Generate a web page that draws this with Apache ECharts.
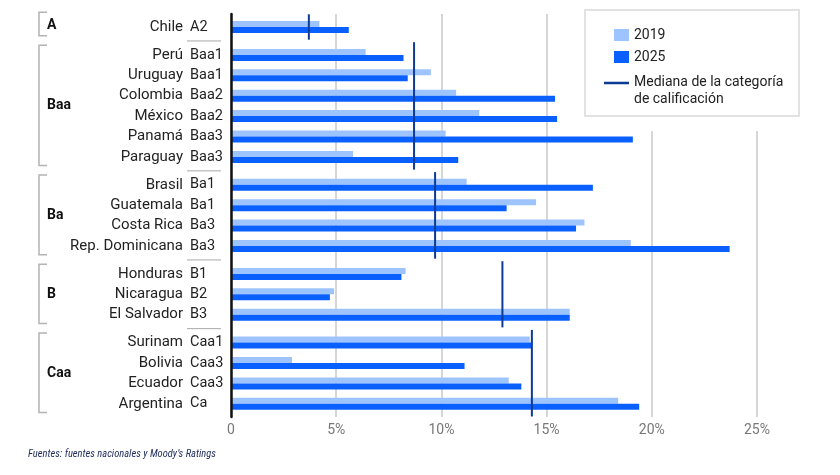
<!DOCTYPE html>
<html>
<head>
<meta charset="utf-8">
<script src="https://cdn.jsdelivr.net/npm/echarts@6/dist/echarts.min.js"></script>
<style>
html,body{margin:0;padding:0;background:#fff;}
#chart{width:840px;height:475px;}
</style>
</head>
<body>
<div id="chart"></div>
<script>
// ---------- DATA ----------
const groups = ['A', 'Baa', 'Ba', 'B', 'Caa'];
const groupSizes = [1, 6, 4, 3, 4];
const countries = ['Chile', 'Perú', 'Uruguay', 'Colombia', 'México', 'Panamá', 'Paraguay',
  'Brasil', 'Guatemala', 'Costa Rica', 'Rep. Dominicana',
  'Honduras', 'Nicaragua', 'El Salvador',
  'Surinam', 'Bolivia', 'Ecuador', 'Argentina'];
const ratings = ['A2', 'Baa1', 'Baa1', 'Baa2', 'Baa2', 'Baa3', 'Baa3',
  'Ba1', 'Ba1', 'Ba3', 'Ba3',
  'B1', 'B2', 'B3',
  'Caa1', 'Caa3', 'Caa3', 'Ca'];
const values2019 = [4.2, 6.4, 9.5, 10.7, 11.8, 10.2, 5.8,
  11.2, 14.5, 16.8, 19.0,
  8.3, 4.9, 16.1,
  14.2, 2.9, 13.2, 18.4];
const values2025 = [5.6, 8.2, 8.4, 15.4, 15.5, 19.1, 10.8,
  17.2, 13.1, 16.4, 23.7,
  8.1, 4.7, 16.1,
  14.3, 11.1, 13.8, 19.4];
const medians = [3.7, 8.7, 9.7, 12.9, 14.3];
const seriesNames = ['2019', '2025'];
const medianName = 'Mediana de la categoría de calificación';
const axisMax = 25, axisInterval = 5;
const footnote = 'Fuentes: fuentes nacionales y Moody\u2019s Ratings';

// ---------- LAYOUT ----------
const W = 840, H = 475;
const plotLeft = 231, plotRight = 83;
const rowH = 20.4, gapH = 7.5, firstTop = 16.8;
const mainTop = 14, mainBottomY = 417;
const col2019 = '#9ec4ff', col2025 = '#0a60ff', colMedian = '#0c3a94';
const font = 'Roboto, "Liberation Sans", Arial, sans-serif';

const groupTops = [];
const groupStart = [];
{
  let y = firstTop, idx = 0;
  groupSizes.forEach((n) => {
    groupTops.push(y);
    groupStart.push(idx);
    y += n * rowH + gapH;
    idx += n;
  });
}

const grids = [{ left: plotLeft, right: plotRight, top: mainTop, bottom: H - mainBottomY }];
const xAxes = [{
  gridIndex: 0, type: 'value', min: 0, max: axisMax, interval: axisInterval,
  axisLine: { show: false }, axisTick: { show: false },
  splitLine: { show: true, lineStyle: { color: '#c9c9c9', width: 1.5 } },
  axisLabel: { color: '#777', fontSize: 14, fontFamily: font, margin: 6,
    formatter: (v) => (v === 0 ? '0' : v + '%') }
}];
const yAxes = [{
  gridIndex: 0, type: 'value', min: 0, max: 1, z: 10,
  axisLine: { show: true, lineStyle: { color: '#111', width: 2.5 } },
  axisTick: { show: false }, axisLabel: { show: false }, splitLine: { show: false }
}];
const series = [];

groups.forEach((g, gi) => {
  const n = groupSizes[gi];
  const s = groupStart[gi];
  const gIdx = gi + 1;
  grids.push({ left: plotLeft, right: plotRight, top: groupTops[gi], height: n * rowH });
  xAxes.push({ gridIndex: gIdx, type: 'value', min: 0, max: axisMax, show: false });
  const yCountry = yAxes.length;
  yAxes.push({
    gridIndex: gIdx, type: 'category', inverse: true, position: 'left',
    data: countries.slice(s, s + n),
    axisLine: { show: false }, axisTick: { show: false }, splitLine: { show: false },
    axisLabel: { margin: 48, fontSize: 15, color: '#222', fontFamily: font }
  });
  yAxes.push({
    gridIndex: gIdx, type: 'category', inverse: true, position: 'left', offset: 0,
    data: ratings.slice(s, s + n),
    axisLine: { show: false }, axisTick: { show: false }, splitLine: { show: false },
    axisLabel: { margin: 41, align: 'left', fontSize: 14.5, color: '#222', fontFamily: font }
  });
  series.push({
    name: seriesNames[0], type: 'bar', xAxisIndex: gIdx, yAxisIndex: yCountry,
    data: values2019.slice(s, s + n), barWidth: 6, barGap: '0%',
    itemStyle: { color: col2019 }, silent: true
  });
  series.push({
    name: seriesNames[1], type: 'bar', xAxisIndex: gIdx, yAxisIndex: yCountry,
    data: values2025.slice(s, s + n), barWidth: 6, barGap: '0%',
    itemStyle: { color: col2025 }, silent: true
  });
  series.push({
    name: medianName, type: 'custom', xAxisIndex: gIdx, yAxisIndex: yCountry,
    itemStyle: { color: colMedian }, z: 5, silent: true,
    data: [[medians[gi], 0, n - 1]],
    renderItem: (params, api) => {
      const x = api.value(0);
      const p0 = api.coord([x, api.value(1)]);
      const p1 = api.coord([x, api.value(2)]);
      const band = api.size([0, 1])[1];
      return {
        type: 'line',
        shape: { x1: p0[0], y1: p0[1] - band / 2 - 2.5, x2: p1[0], y2: p1[1] + band / 2 + 2.5 },
        style: { stroke: colMedian, lineWidth: 2 }
      };
    }
  });
});

// decorations: brackets, group labels, separators
const graphics = [];
groups.forEach((g, gi) => {
  const top = groupTops[gi];
  const bottom = top + groupSizes[gi] * rowH;
  const bx = 39, tip = 47;
  const bt = top - (gi === 0 ? 4.5 : -0.5);
  graphics.push({
    type: 'polyline', z: 1, silent: true,
    shape: { points: [[tip, bt], [bx, bt], [bx, bottom - 1.5], [tip, bottom - 1.5]] },
    style: { stroke: '#b3b3b3', lineWidth: 1.5, fill: null }
  });
  graphics.push({
    type: 'text', z: 1, silent: true,
    x: 47, y: (top + bottom) / 2 - (gi === 0 ? 2 : 0),
    style: { text: g, font: 'bold 14px ' + font, fill: '#111', verticalAlign: 'middle', align: 'left' }
  });
  if (gi < groups.length - 1) {
    const sy = bottom + gapH / 2;
    graphics.push({
      type: 'line', z: 1, silent: true,
      shape: { x1: 187, y1: sy, x2: 221, y2: sy },
      style: { stroke: '#a8a8a8', lineWidth: 1 }
    });
  }
});
// legend box
graphics.push({ type: 'rect', z: 50, silent: true, shape: { x: 572, y: 0, width: 240, height: 131 }, style: { fill: '#fff' } });
graphics.push({ type: 'rect', z: 51, silent: true, shape: { x: 585, y: 10, width: 214, height: 106 }, style: { fill: '#fff', stroke: '#e2e2e2', lineWidth: 2 } });
// footnote
graphics.push({
  type: 'text', z: 1, silent: true, x: 28, y: 454,
  style: { text: footnote, font: 'italic 10.5px "Liberation Sans Narrow", "Roboto Condensed", ' + font, fill: '#1d2b5a', verticalAlign: 'middle' }
});

const chart = echarts.init(document.getElementById('chart'), null, { renderer: 'canvas' });
chart.setOption({
  animation: false,
  backgroundColor: '#fff',
  grid: grids,
  xAxis: xAxes,
  yAxis: yAxes,
  graphic: graphics,
  legend: [
    {
      data: seriesNames, orient: 'vertical', left: 609, top: 23, z: 60,
      itemWidth: 15, itemHeight: 12, itemGap: 8, icon: 'rect',
      textStyle: { fontSize: 14, color: '#222', fontFamily: font }, selectedMode: false
    },
    {
      data: [medianName], orient: 'vertical', left: 599, top: 69, z: 60,
      itemWidth: 25, itemHeight: 34,
      icon: 'path://M0,0h0.01v0.01h-0.01z M0,7.7h25v2.6h-25z M0,33.99h0.01v0.01h-0.01z',
      formatter: () => 'Mediana de la categoría\nde calificación',
      textStyle: { fontSize: 14, color: '#222', fontFamily: font, lineHeight: 17 }, selectedMode: false
    }
  ],
  series: series
});
</script>
</body>
</html>
